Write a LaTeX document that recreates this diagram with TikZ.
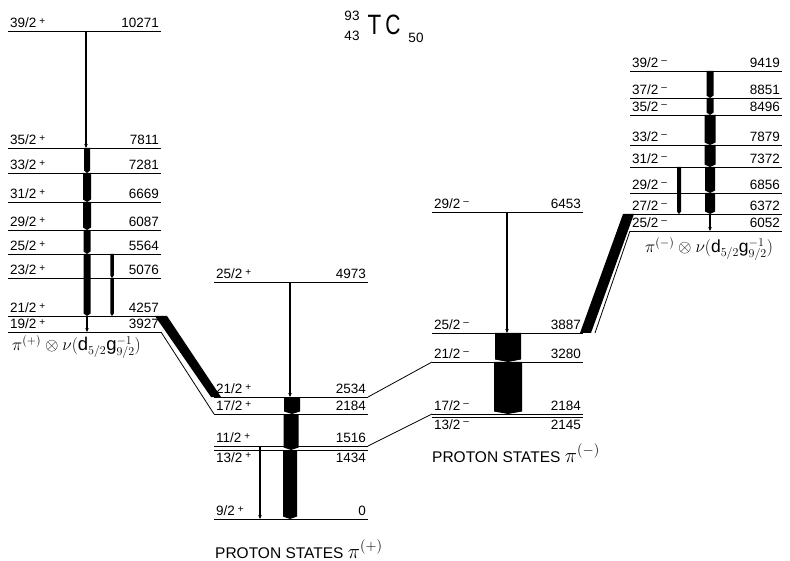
\documentclass[tikz,border=0pt]{standalone}
\usepackage{fontspec}
\setmainfont{Liberation Sans}
\usetikzlibrary{arrows.meta}
\newcommand\spp{\hspace{3pt}\raisebox{.45ex}{\fontsize{10}{10}\selectfont +}}
\newcommand\smm{\hspace{3pt}\raisebox{.6ex}{\fontsize{10}{10}\selectfont –}}
% level with labels above: name, x1, x2, y, spin, energy
\newcommand\levA[6]{%
  \draw[lev] (#2,#4) coordinate (#1-l) -- (#3,#4) coordinate (#1-r);
  \node[lab,anchor=base west] (#1-s) at (#2+2,#4-3.5) {#5};
  \node[lab,anchor=base east] (#1-e) at (#3-2,#4-3.5) {#6};}
% level with labels below
\newcommand\levB[6]{%
  \draw[lev] (#2,#4) coordinate (#1-l) -- (#3,#4) coordinate (#1-r);
  \node[lab,anchor=base west] (#1-s) at (#2+2,#4+12) {#5};
  \node[lab,anchor=base east] (#1-e) at (#3-2,#4+12) {#6};}
% thick transition: x, ytop, ybottom, width
\newcommand\gbar[4]{\fill (#1-#4/2,#2) -- (#1+#4/2,#2) -- (#1+#4/2,#3-2.5) -- (#1,#3) -- (#1-#4/2,#3-2.5) -- cycle;}
% thin transition
\newcommand\gthin[3]{\draw[thinT] (#1,#2) -- (#1,#3);}
\newcommand\bigmath[2]{{\fontsize{#1}{#1}\selectfont$#2$}}
\begin{document}
\begin{tikzpicture}[x=1pt,y=-1pt,
  lev/.style={line width=0.8pt},
  lab/.style={font=\fontsize{13.5}{15}\selectfont, inner sep=0pt},
  thinT/.style={line width=1.1pt,-{Stealth[length=4pt,width=3.5pt]}},
  big/.style={font=\fontsize{15.5}{18}\selectfont, inner sep=0pt},
  ttl/.style={inner sep=0pt,anchor=base,font=\fontsize{28}{30}\selectfont}]
\useasboundingbox (0,0) rectangle (790,561);
% title
\node[lab,anchor=base] (t93) at (352,21) {93};
\node[lab,anchor=base] (t43) at (352,41) {43};
\node[ttl] (tT) at (374.5,35) {\scalebox{0.8}[1]{T}};
\node[ttl] (tC) at (393,35) {\scalebox{0.75}[1]{C}};
\node[lab,anchor=base] (t50) at (416,43) {50};
% left column
\levA{a39}{8}{161}{31}{39/2\spp}{10271}
\levA{a35}{8}{161}{148}{35/2\spp}{7811}
\levA{a33}{8}{161}{173}{33/2\spp}{7281}
\levA{a31}{8}{161}{202}{31/2\spp}{6669}
\levA{a29}{8}{161}{230}{29/2\spp}{6087}
\levA{a25}{8}{161}{254}{25/2\spp}{5564}
\levA{a23}{8}{161}{278}{23/2\spp}{5076}
\levA{a21}{8}{161}{316}{21/2\spp}{4257}
\levA{a19}{8}{161}{332}{19/2\spp}{3927}
\gthin{86}{31}{148}
\gbar{87}{148}{173}{6}
\gbar{87}{173}{202}{8}
\gbar{87}{202}{230}{8}
\gbar{87}{230}{254}{7}
\gbar{87}{254}{316}{7}
\gthin{87}{316}{332}
\gbar{112}{254}{278}{3.5}
\gbar{112}{278}{316}{3.5}
\node[inner sep=0pt,anchor=base west] (lp) at (12,351) {\bigmath{18.5}{\pi^{(+)}\otimes\nu(\mbox{d}_{5/2}\mbox{g}^{-1}_{9/2})}};
% middle column
\levA{b25}{214}{368}{282}{25/2\spp}{4973}
\levA{b21}{214}{368}{397}{21/2\spp}{2534}
\levA{b17}{214}{368}{414}{17/2\spp}{2184}
\levA{b11}{214}{368}{446}{11/2\spp}{1516}
\levB{b13}{214}{368}{450}{13/2\spp}{1434}
\levA{b9}{214}{368}{519}{9/2\spp}{0}
\gthin{290}{282}{397}
\gbar{292}{397}{414}{16}
\gbar{291}{414}{450}{15}
\gbar{290}{450}{519}{14}
\gthin{260}{446}{519}
\node[big,anchor=base west] (pp) at (215,558) {PROTON STATES \bigmath{20}{\pi^{(+)}}};
% right-middle column
\levA{c29}{432}{583}{212}{29/2\smm}{6453}
\levA{c25}{432}{583}{333}{25/2\smm}{3887}
\levA{c21}{432}{583}{362}{21/2\smm}{3280}
\levA{c17}{432}{583}{414}{17/2\smm}{2184}
\levB{c13}{432}{583}{417}{13/2\smm}{2145}
\gthin{507}{212}{333}
\gbar{508}{333}{362}{26}
\gbar{508}{362}{414}{28}
\node[big,anchor=base west] (pm) at (432,462) {PROTON STATES \bigmath{20}{\pi^{(-)}}};
% right column
\levA{d39}{630}{782}{71}{39/2\smm}{9419}
\levA{d37}{630}{782}{98}{37/2\smm}{8851}
\levA{d35}{630}{782}{115}{35/2\smm}{8496}
\levA{d33}{630}{782}{145}{33/2\smm}{7879}
\levA{d31}{630}{782}{167}{31/2\smm}{7372}
\levA{d29}{630}{782}{193}{29/2\smm}{6856}
\levA{d27}{630}{782}{214}{27/2\smm}{6372}
\levA{d25}{630}{782}{231}{25/2\smm}{6052}
\gbar{710}{71}{98}{7}
\gbar{710}{98}{115}{7}
\gbar{710}{115}{145}{11}
\gbar{710}{145}{167}{11}
\gbar{710}{167}{193}{10}
\gbar{710}{193}{214}{10}
\gthin{710}{214}{231}
\gbar{679}{167}{214}{4}
\node[inner sep=0pt,anchor=base west] (lm) at (645,253) {\bigmath{17.5}{\pi^{(-)}\otimes\nu(\mbox{d}_{5/2}\mbox{g}^{-1}_{9/2})}};
% connecting bands and lines
\fill (155,316) -- (167,316) -- (221,397) -- (211,397) -- cycle;
\draw[line width=0.8pt] (a19-r) -- (b17-l);
\fill (623,214) -- (634,214) -- (591,333) -- (580,333) -- cycle;
\draw[line width=0.8pt] (d25-l) -- (595,333);
\draw[line width=0.8pt] (b21-r) -- (c21-l);
\draw[line width=0.8pt] (b11-r) -- (c17-l);
\end{tikzpicture}
\end{document}
